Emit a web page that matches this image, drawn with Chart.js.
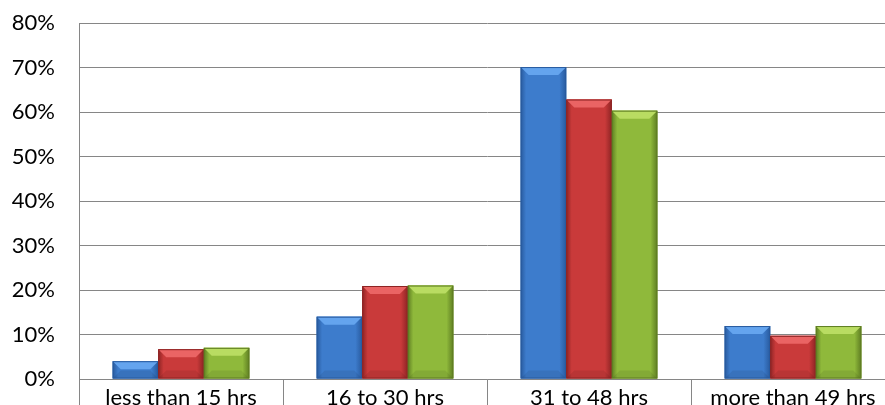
<!DOCTYPE html>
<html>
<head>
<meta charset="utf-8">
<script src="https://cdn.jsdelivr.net/npm/chart.js@4"></script>
<style>
  html, body { margin: 0; padding: 0; background: #fff; overflow: hidden; }
  #wrap { width: 900px; height: 420px; position: relative; }
</style>
</head>
<body>
<div id="wrap"><canvas id="chart"></canvas></div>
<script>
const categories = ['less than 15 hrs', '16 to 30 hrs', '31 to 48 hrs', 'more than 49 hrs'];
const seriesA = [4.0, 14.0, 70.1, 11.9];
const seriesB = [6.7, 20.9, 62.8, 9.7];
const seriesC = [7.0, 21.0, 60.3, 11.9];
const yTicks = [0, 10, 20, 30, 40, 50, 60, 70, 80];

const palette = [
    { face: '#3d7ccc', light: '#64a4ee', dark: '#285a9e' },
    { face: '#c93a3a', light: '#ea6464', dark: '#8e2424' },
    { face: '#8fb93b', light: '#b9dc62', dark: '#5e7d22' }
];

// paints the bevelled look on top of each bar the library laid out
const bevelPlugin = {
    id: 'bevel',
    afterDatasetsDraw(chart) {
        const ctx = chart.ctx;
        chart.data.datasets.forEach((ds, i) => {
            const meta = chart.getDatasetMeta(i);
            const c = palette[i];
            meta.data.forEach(bar => {
                const left = bar.x - bar.width / 2;
                const right = bar.x + bar.width / 2;
                const top = bar.y;
                const bottom = bar.base;
                const h = bottom - top;
                const b = Math.min(8, h / 2);
                ctx.save();
                const g = ctx.createLinearGradient(left, 0, right, 0);
                g.addColorStop(0, c.dark);
                g.addColorStop(0.12, c.face);
                g.addColorStop(0.85, c.face);
                g.addColorStop(1, c.dark);
                ctx.fillStyle = g;
                ctx.fillRect(left, top, right - left, h);
                // top bevel
                ctx.beginPath();
                ctx.moveTo(left, top);
                ctx.lineTo(right, top);
                ctx.lineTo(right - b, top + b);
                ctx.lineTo(left + b, top + b);
                ctx.closePath();
                ctx.fillStyle = c.light;
                ctx.fill();
                // bottom bevel
                ctx.beginPath();
                ctx.moveTo(left, bottom);
                ctx.lineTo(right, bottom);
                ctx.lineTo(right - b, bottom - b);
                ctx.lineTo(left + b, bottom - b);
                ctx.closePath();
                ctx.fillStyle = 'rgba(0,0,0,0.08)';
                ctx.fill();
                ctx.strokeStyle = c.dark;
                ctx.lineWidth = 1;
                ctx.strokeRect(left + 0.5, top + 0.5, right - left - 1, h - 1);
                ctx.restore();
            });
        });
    }
};

new Chart(document.getElementById('chart'), {
    type: 'bar',
    data: {
        labels: categories,
        datasets: [
            { label: 'A', data: seriesA, backgroundColor: palette[0].face },
            { label: 'B', data: seriesB, backgroundColor: palette[1].face },
            { label: 'C', data: seriesC, backgroundColor: palette[2].face }
        ]
    },
    options: {
        responsive: true,
        maintainAspectRatio: false,
        animation: false,
        layout: { padding: { top: 23, right: 5, left: 0, bottom: 0 } },
        plugins: { legend: { display: false }, tooltip: { enabled: false } },
        datasets: { bar: { categoryPercentage: 0.67, barPercentage: 1 } },
        scales: {
            x: {
                grid: { drawOnChartArea: false, drawTicks: true, tickLength: 45, color: '#868686', lineWidth: 1 },
                border: { color: '#868686', width: 1 },
                ticks: { color: '#000', padding: -39, font: { family: 'Lato', size: 22 } },
                afterFit(scale) { scale.height = 41; scale.paddingLeft = 0; scale.paddingRight = 0; }
            },
            y: {
                min: 0,
                max: 80,
                afterBuildTicks(scale) { scale.ticks = yTicks.map(v => ({ value: v })); },
                grid: { color: '#868686', lineWidth: 1, drawTicks: false },
                border: { color: '#868686', width: 1 },
                ticks: {
                    color: '#000',
                    padding: 24,
                    font: { family: 'Lato', size: 22 },
                    callback: v => v + '%'
                },
                afterFit(scale) { scale.width = 79; scale.paddingTop = 0; scale.paddingBottom = 0; }
            }
        }
    },
    plugins: [bevelPlugin]
});
</script>
</body>
</html>
